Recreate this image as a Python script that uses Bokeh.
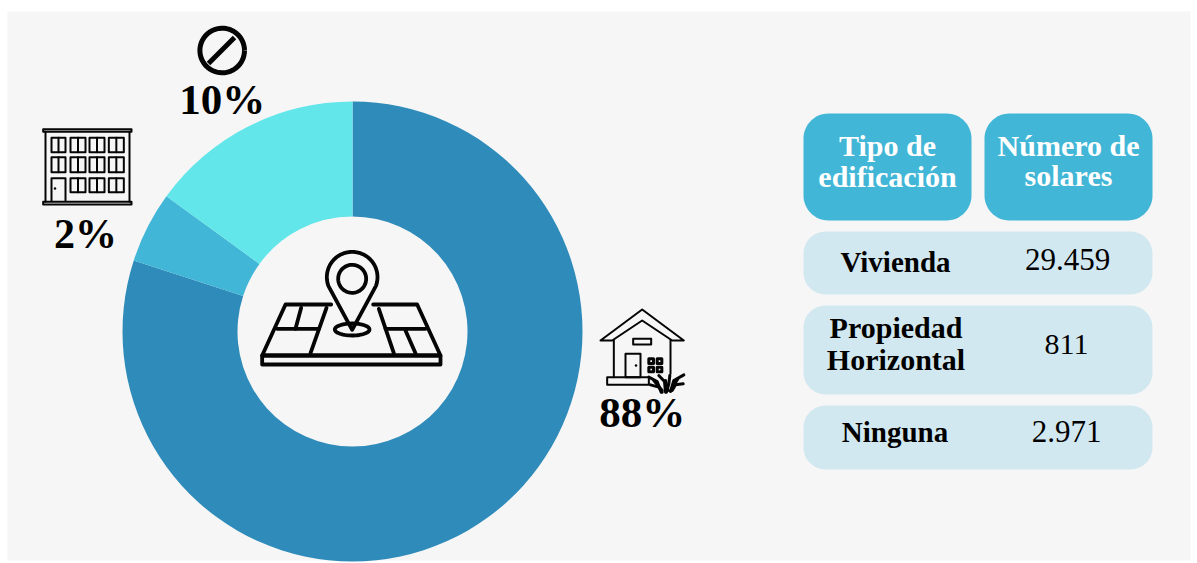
import numpy as np
from bokeh.plotting import figure
from bokeh.embed import file_html
from bokeh.resources import INLINE
from bokeh.core.properties import value

# ---- data
slice_names = ["Vivienda", "Propiedad Horizontal", "Ninguna"]
slice_shares = [80.0, 5.0, 15.0]          # visual share of the ring
slice_colors = ["#2E8BBA", "#41B6D6", "#62E6EA"]
pct_labels = ["88%", "2%", "10%"]
header_lines = [["Tipo de", "edificación"], ["Número de", "solares"]]
row_labels = [["Vivienda"], ["Propiedad", "Horizontal"], ["Ninguna"]]
row_counts = ["29.459", "811", "2.971"]

W, H = 1197, 563
FONT = value("Liberation Serif")
BG, HEAD, ROW = "#F6F6F6", "#41B6D6", "#D2E8F0"
INK = "#050505"

p = figure(width=W, height=H, x_range=(0, W), y_range=(H, 0),
           output_backend="svg", toolbar_location=None, min_border=0,
           outline_line_color=None, border_fill_color="white",
           background_fill_color="white")
p.axis.visible = False
p.grid.visible = False


def rrect(x0, y0, x1, y1, r, n=14):
    xs, ys = [], []
    for cx, cy, a0 in [(x1 - r, y0 + r, -90), (x1 - r, y1 - r, 0), (x0 + r, y1 - r, 90), (x0 + r, y0 + r, 180)]:
        t = np.radians(np.linspace(a0, a0 + 90, n))
        xs += list(cx + r * np.cos(t))
        ys += list(cy + r * np.sin(t))
    return xs, ys


def box(x0, y0, x1, y1, color, r):
    xs, ys = rrect(x0, y0, x1, y1, r)
    p.patch(xs, ys, fill_color=color, line_color=None)


def txt(x, y, s, size, bold=False, color="#000000"):
    # the SVG text sits below the requested alphabetic line by a share of the size
    p.text([x], [y - 0.39 * size], text=[s], text_font=FONT, text_font_size=f"{size}px",
           text_font_style="bold" if bold else "normal", text_color=color,
           text_align="center", text_baseline="alphabetic")


def ell(cx, cy, a, b=None, n=60):
    b = a if b is None else b
    t = np.linspace(0, 2 * np.pi, n)
    return cx + a * np.cos(t), cy + b * np.sin(t)


def ink(ox, oy, strokes, width):
    """Icon strokes given in 3x-zoom units relative to (ox, oy)."""
    xs = [[ox + q[0] / 3 for q in s] for s in strokes]
    ys = [[oy + q[1] / 3 for q in s] for s in strokes]
    p.multi_line(xs, ys, line_color=INK, line_width=width, line_join="round", line_cap="round")


def frame(x0, y0, x1, y1):
    return [(x0, y0), (x1, y0), (x1, y1), (x0, y1), (x0, y0)]


# sheet
p.quad(left=[7], right=[1190], top=[11], bottom=[560], fill_color=BG, line_color=None)

# ring
cum = np.concatenate([[0], np.cumsum(slice_shares)]) / np.sum(slice_shares) * 2 * np.pi
p.annular_wedge(x=[352] * 3, y=[331] * 3, inner_radius=115, outer_radius=230,
                start_angle=list(np.pi / 2 - cum[1:]), end_angle=list(np.pi / 2 - cum[:-1]),
                direction="anticlock", fill_color=slice_colors, line_color=None)

# percentages
txt(641.7, 429, pct_labels[0], 43, True)
txt(85, 250, pct_labels[1], 42, True)
txt(221.7, 116, pct_labels[2], 43, True)

# table
box(803, 113, 971, 220, HEAD, 25)
box(984, 113, 1152, 220, HEAD, 25)
box(803, 231, 1152, 294, ROW, 22)
box(803, 305, 1152, 394, ROW, 22)
box(803, 405, 1152, 469, ROW, 22)
txt(887, 157, header_lines[0][0], 30, True, "white")
txt(887, 188, header_lines[0][1], 30, True, "white")
txt(1068, 157, header_lines[1][0], 30, True, "white")
txt(1068, 187, header_lines[1][1], 30, True, "white")
txt(895, 273, row_labels[0][0], 29, True)
txt(895.5, 339, row_labels[1][0], 30, True)
txt(895.5, 371, row_labels[1][1], 30, True)
txt(894.5, 443, row_labels[2][0], 29, True)
txt(1067, 271, row_counts[0], 31)
txt(1066, 356, row_counts[1], 30)
txt(1066, 443, row_counts[2], 31)

# ban icon
cx, cy = ell(221.7, 50, 22.3)
p.line(cx, cy, line_color=INK, line_width=5)
p.line([208, 234], [63, 37], line_color=INK, line_width=5)

# building icon
strokes = [frame(68, 356, 333, 364), frame(68, 574, 333, 582),
           [(75, 364), (75, 574)], [(327, 364), (327, 574)],
           [(93, 570), (93, 503), (135, 503), (135, 570)]]
for wy0, wy1 in [(382, 425), (440, 485), (503, 545)]:
    for i, (wx0, wx1) in enumerate([(93, 135), (150, 195), (207, 252), (265, 310)]):
        if wy0 == 503 and i == 0:
            continue
        strokes.append(frame(wx0, wy0, wx1, wy1))
        mid = (wx0 + wx1) / 2
        strokes.append([(mid, wy0), (mid, wy1)])
ink(20, 10, strokes, 2.0)
p.scatter([54.5], [188], size=2.5, marker="circle", fill_color=INK, line_color=None)

# map icon
t = np.radians(np.linspace(160, 380, 50))
drop = [(335 + 76 * np.cos(a), 140 + 76 * np.sin(a)) for a in t] + [(335, 298)]
drop.append(drop[0])
circ = list(zip(*ell(335, 145, 42)))
shadow = list(zip(*ell(335, 297, 52, 18)))
map_strokes = [[(272, 222), (135, 222), (65, 375), (600, 375), (530, 222), (398, 222)],
               frame(65, 375, 600, 402),
               [(110, 295), (235, 295)], [(182, 232), (165, 295)], [(258, 232), (210, 368)],
               [(415, 235), (460, 368)], [(435, 295), (555, 295)], [(495, 300), (525, 368)],
               drop, circ, shadow]
ink(240, 230, map_strokes, 3.8)

# house icon
house = [[(30, 135), (155, 42), (280, 135), (245, 135), (155, 75), (65, 135), (30, 135)],
         [(70, 135), (70, 245)], [(240, 135), (240, 235)],
         frame(128, 130, 182, 147), frame(105, 175, 150, 245), frame(50, 245, 175, 268)]
ink(590, 295, house, 2.0)
panes = [frame(x, y, x + 14, y + 14) for x, y in [(175, 190), (200, 190), (175, 215), (200, 215)]]
ink(590, 295, panes, 3.0)
grass = [[(175, 245), (200, 258), (212, 290)], [(180, 268), (205, 275), (215, 290)],
         [(205, 240), (222, 258), (225, 290)], [(238, 240), (235, 265), (228, 290)],
         [(280, 238), (250, 255), (240, 288)], [(278, 265), (255, 268), (245, 285)],
         [(190, 255), (215, 285)], [(225, 255), (232, 285)], [(262, 250), (240, 285)]]
ink(590, 295, grass, 3.0)
p.scatter([635.5], [365], size=2.5, marker="circle", fill_color=INK, line_color=None)

open("out.html", "w").write(file_html(p, INLINE))
